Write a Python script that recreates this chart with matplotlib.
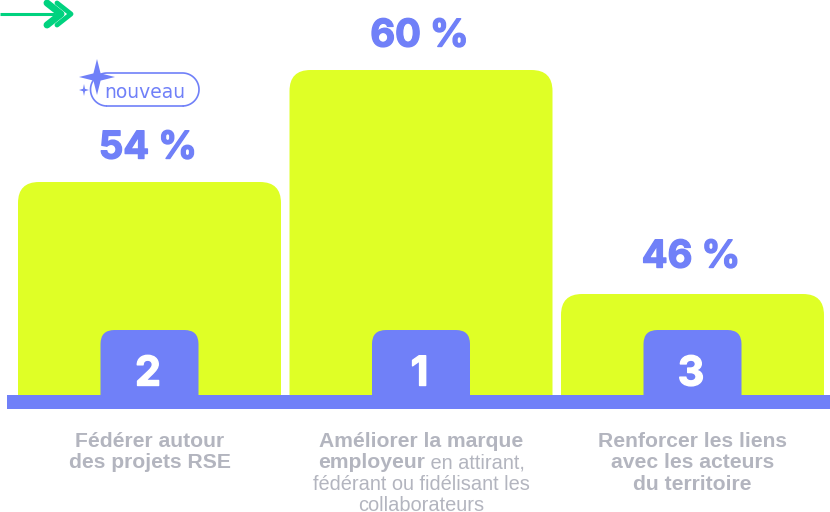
import numpy as np
import matplotlib
matplotlib.use("Agg")
import matplotlib.pyplot as plt
import matplotlib.patheffects as pe
from matplotlib.path import Path
from matplotlib.patches import PathPatch, Rectangle

ranks = [2, 1, 3]
values = [54, 60, 46]
podium_heights = [213, 325, 101]
label_lines = [
    [[("Fédérer autour", True)], [("des projets RSE", True)]],
    [[("Améliorer la marque", True)],
     [("employeur", True), (" en attirant,", False)],
     [("fédérant ou fidélisant les", False)],
     [("collaborateurs", False)]],
    [[("Renforcer les liens", True)], [("avec les acteurs", True)], [("du territoire", True)]],
]
badge_text = "nouveau"

LIME = "#dfff26"
BLUE = "#7080f8"
GREY = "#b3b5bf"
GREEN = "#00d27f"
PCT_FONT = "Inter"
LABEL_FONT = "Liberation Sans"

fig = plt.figure(figsize=(8.30, 5.12), dpi=100)
ax = fig.add_axes([0, 0, 1, 1])
ax.set_xlim(0, 830)
ax.set_ylim(-117, 395)
ax.axis("off")

def top_rounded(x0, x1, y0, y1, r, **kw):
    P = [(x0, y0), (x0, y1 - r), (x0, y1), (x0 + r, y1), (x1 - r, y1), (x1, y1), (x1, y1 - r), (x1, y0), (x0, y0)]
    C = [Path.MOVETO, Path.LINETO, Path.CURVE3, Path.CURVE3, Path.LINETO, Path.CURVE3, Path.CURVE3, Path.LINETO, Path.CLOSEPOLY]
    ax.add_patch(PathPatch(Path(P, C), lw=0, **kw))

def star(cx, cy, rx, ry, **kw):
    k = 0.2
    P = [(cx, cy + ry), (cx + rx * k, cy + ry * k), (cx + rx, cy), (cx + rx * k, cy - ry * k),
         (cx, cy - ry), (cx - rx * k, cy - ry * k), (cx - rx, cy), (cx - rx * k, cy + ry * k), (cx, cy + ry)]
    ax.add_patch(PathPatch(Path(P), lw=0, **kw))

centers = [149.5, 421, 692.5]
half_w = 131.5
gaps = [23, 23, 26]
heavy = lambda col: [pe.withStroke(linewidth=1.0, foreground=col)]
for i, (c, h, rank, v) in enumerate(zip(centers, podium_heights, ranks, values)):
    top_rounded(c - half_w, c + half_w, 0, h, 21, fc=LIME, zorder=1)
    top_rounded(c - 49, c + 49, 0, 65, 14, fc=BLUE, zorder=2)
    ax.text(c - 1.5, 9.5, str(rank), ha="center", va="baseline", color="white", fontsize=29.5,
            fontweight="bold", family=PCT_FONT, zorder=3, path_effects=heavy("white"))
    ax.text(c - 1.5, h + gaps[i] + 0.5, f"{v} %", ha="center", va="baseline", color=BLUE, fontsize=27.5,
            fontweight="bold", family=PCT_FONT, zorder=3, path_effects=heavy(BLUE))

ax.add_patch(Rectangle((7, -14), 823, 14, fc=BLUE, lw=0, zorder=2))

# labels, mixing weights on a line
fig.canvas.draw()
rend = fig.canvas.get_renderer()
line_h = 21.3
for c, lines in zip(centers, label_lines):
    for j, line in enumerate(lines):
        y = -52 - j * line_h
        arts = [ax.text(0, y, t, fontsize=15.2 if b else 14.4, color=GREY, family=LABEL_FONT, va="baseline",
                        fontweight="bold" if b else "normal") for t, b in line]
        widths = []
        for a in arts:
            a.set_text(a.get_text().replace(" ", "\u00a0"))
            widths.append(a.get_window_extent(rend).width)
        x = c - sum(widths) / 2
        for a, w in zip(arts, widths):
            a.set_x(x)
            x += w

# badge: pill outline
t = np.linspace(-np.pi / 2, np.pi / 2, 40)
r = 16.5
px = np.r_[182.5 + r * np.cos(t), 107 - r * np.cos(t)[::-1] * -1 * -1]
py = np.r_[305.5 + r * np.sin(t), 305.5 + r * np.sin(t)[::-1]]
ax.add_patch(PathPatch(Path(np.c_[px, py], closed=False), fc="none", ec=BLUE, lw=1.2, zorder=2))
ax.plot([px[-1], px[0]], [py[-1], py[0]], color=BLUE, lw=1.2, zorder=2)
star(97, 318, 18, 18, fc=BLUE, zorder=4)
star(84, 305, 5, 6, fc=BLUE, zorder=4)
ax.text(145, 303, badge_text, fontsize=13.5, color=BLUE, family="DejaVu Sans", ha="center",
        va="center", zorder=5)

# arrow, top-left
ax.plot([0, 55], [381, 381], color=GREEN, lw=2.2, solid_capstyle="butt")
ax.plot([47, 61, 47], [392, 381, 370], color=GREEN, lw=5, solid_joinstyle="round", solid_capstyle="round")
ax.plot([57, 71, 57], [392, 381, 370], color=GREEN, lw=3.5, solid_joinstyle="round", solid_capstyle="round")

fig.savefig("out.png", dpi=100, facecolor="white")
